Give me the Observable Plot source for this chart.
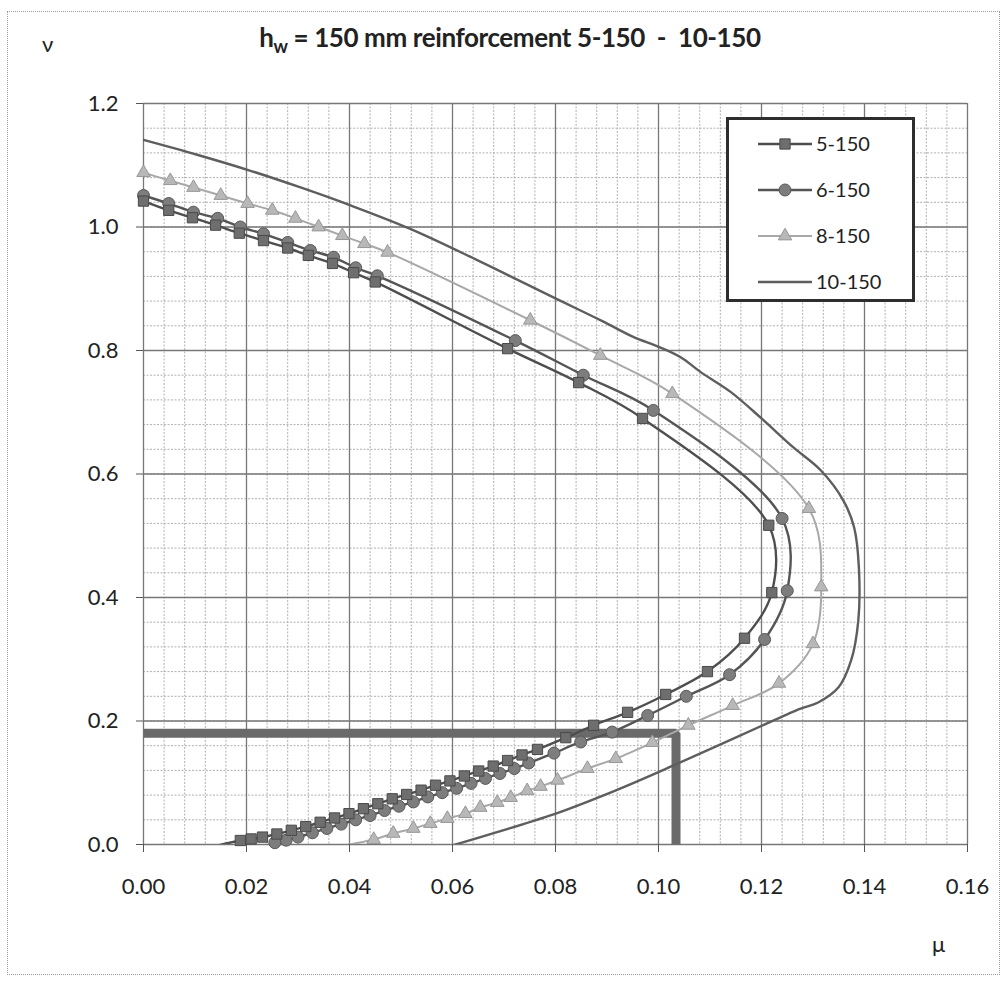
<!DOCTYPE html>
<html>
<head>
<meta charset="utf-8">
<script src="https://cdn.jsdelivr.net/npm/d3@7"></script>
<script src="https://cdn.jsdelivr.net/npm/@observablehq/plot@0.6"></script>
<style>
html, body { margin: 0; padding: 0; background: #fff; }
#wrap { position: relative; width: 1005px; height: 981px; font-family: Lato, "Open Sans", sans-serif; color: #222; overflow: hidden; }
#border { position: absolute; left: 7px; top: 11px; width: 993px; height: 964px; border: 1px dotted #9a9a9a; box-sizing: border-box; }
#chart { position: absolute; left: 0; top: 0; }
#title { position: absolute; left: 0; width: 1020px; top: 21px; text-align: center; font-weight: bold; font-size: 26px; letter-spacing: -0.4px; white-space: pre; }
#title sub { font-size: 18px; vertical-align: -6px; line-height: 0; }
#ylab { position: absolute; left: 42px; top: 30px; font-size: 22px; }
#xlab { position: absolute; left: 932px; top: 930px; font-size: 22px; }
#legend { position: absolute; left: 726px; top: 117px; width: 189px; height: 185px; border: 3px solid #2e2e2e; box-sizing: border-box; background: #fff; }
.lrow { position: absolute; left: 0; height: 24px; }
.lrow svg { position: absolute; left: 28px; top: 0; }
.lrow span { position: absolute; left: 87px; top: -1px; font-size: 20px; white-space: nowrap; }
</style>
</head>
<body>
<div id="wrap">
  <div id="border"></div>
  <div id="chart"></div>
  <div id="title">h<sub>w</sub> = 150 mm reinforcement 5-150  -  10-150</div>
  <div id="ylab">ν</div>
  <div id="xlab">μ</div>
  <div id="legend"></div>
</div>
<script>
// ---- data (mu = x, nu = y) ----
const seriesNames = ["5-150", "6-150", "8-150", "10-150"];

const mu5 = [0, 0.0049, 0.0095, 0.014, 0.0186, 0.0233, 0.028, 0.032, 0.0367, 0.0408, 0.045, 0.0707, 0.0845, 0.0969, 0.1214, 0.122, 0.1167, 0.1095, 0.1014, 0.094, 0.0874, 0.082, 0.0765, 0.0735, 0.0707, 0.0679, 0.0651, 0.0623, 0.0595, 0.0567, 0.0539, 0.0511, 0.0483, 0.0455, 0.0427, 0.0399, 0.0371, 0.0343, 0.0315, 0.0287, 0.0259, 0.0231, 0.0209, 0.0188, 0.0053];
const nu5 = [1.042, 1.027, 1.015, 1.003, 0.990, 0.978, 0.966, 0.954, 0.941, 0.926, 0.911, 0.803, 0.748, 0.690, 0.517, 0.408, 0.334, 0.280, 0.243, 0.214, 0.193, 0.173, 0.154, 0.145, 0.136, 0.127, 0.119, 0.111, 0.103, 0.096, 0.088, 0.081, 0.074, 0.066, 0.058, 0.050, 0.043, 0.036, 0.029, 0.023, 0.017, 0.012, 0.009, 0.0065, -0.02];

const mu6 = [0, 0.0049, 0.0097, 0.0144, 0.0188, 0.0233, 0.028, 0.0324, 0.0369, 0.0412, 0.0454, 0.0722, 0.0854, 0.099, 0.124, 0.125, 0.1206, 0.1138, 0.1054, 0.0979, 0.091, 0.0849, 0.0797, 0.0748, 0.072, 0.0692, 0.0664, 0.0636, 0.0608, 0.058, 0.0552, 0.0524, 0.0496, 0.0468, 0.044, 0.0412, 0.0384, 0.0356, 0.0328, 0.03, 0.0277, 0.0255];
const nu6 = [1.051, 1.038, 1.024, 1.014, 1.000, 0.989, 0.975, 0.962, 0.951, 0.934, 0.921, 0.816, 0.760, 0.703, 0.528, 0.411, 0.332, 0.275, 0.240, 0.209, 0.182, 0.166, 0.148, 0.132, 0.123, 0.115, 0.107, 0.099, 0.091, 0.084, 0.077, 0.069, 0.062, 0.055, 0.047, 0.040, 0.033, 0.026, 0.019, 0.012, 0.007, 0.003];

const mu8 = [0, 0.0052, 0.0097, 0.015, 0.0202, 0.025, 0.0295, 0.034, 0.0386, 0.0429, 0.0474, 0.0751, 0.0887, 0.1027, 0.1292, 0.1316, 0.130, 0.1234, 0.1144, 0.1058, 0.0988, 0.0917, 0.0862, 0.0804, 0.0771, 0.0745, 0.0713, 0.0687, 0.0654, 0.0625, 0.059, 0.0557, 0.0524, 0.0485, 0.0447, 0.0262];
const nu8 = [1.088, 1.075, 1.064, 1.051, 1.038, 1.027, 1.014, 1.000, 0.986, 0.973, 0.959, 0.849, 0.792, 0.730, 0.544, 0.417, 0.325, 0.261, 0.225, 0.193, 0.165, 0.139, 0.123, 0.104, 0.094, 0.087, 0.076, 0.068, 0.060, 0.050, 0.042, 0.034, 0.026, 0.018, 0.008, -0.02];

const mu10 = [0, 0.0104, 0.0208, 0.0305, 0.0402, 0.0518, 0.0649, 0.0796, 0.089, 0.0951, 0.1, 0.1043, 0.1082, 0.114, 0.12, 0.1262, 0.1315, 0.1359, 0.138, 0.1389, 0.1388, 0.1374, 0.135, 0.131, 0.1276, 0.1237, 0.1029, 0.0915, 0.079, 0.0606, 0.0528];
const nu10 = [1.141, 1.117, 1.091, 1.064, 1.035, 0.997, 0.946, 0.886, 0.848, 0.822, 0.806, 0.789, 0.765, 0.733, 0.690, 0.643, 0.606, 0.557, 0.513, 0.450, 0.363, 0.298, 0.255, 0.230, 0.220, 0.206, 0.128, 0.087, 0.047, 0.000, -0.02];

// design point lines
const refMu = [0, 0.1034, 0.1034];
const refNu = [0.18, 0.18, 0];

// axes
const xTicks = [0, 0.02, 0.04, 0.06, 0.08, 0.10, 0.12, 0.14, 0.16];
const yTicks = [0, 0.2, 0.4, 0.6, 0.8, 1.0, 1.2];
const xMinor = d3.range(0, 0.1601, 0.004);
const yMinor = d3.range(0, 1.2001, 0.04);

// ---- styles ----
const styles = {
  "5-150":  {line: "#4e4e4e", fill: "#6e6e6e", stroke: "#4a4a4a", symbol: "square",   r: 5.8, width: 2.4},
  "6-150":  {line: "#555555", fill: "#7d7d7d", stroke: "#585858", symbol: "circle",   r: 6.0, width: 2.4},
  "8-150":  {line: "#a8a8a8", fill: "#b8b8b8", stroke: "#979797", symbol: "triangle", r: 5.0, width: 2.0},
  "10-150": {line: "#5e5e5e", fill: null,      stroke: null,      symbol: null,       r: 0,   width: 2.4}
};

function toRows(name, mus, nus) { return mus.map((m, i) => ({series: name, mu: m, nu: nus[i]})); }
const rows = {
  "5-150": toRows("5-150", mu5, nu5),
  "6-150": toRows("6-150", mu6, nu6),
  "8-150": toRows("8-150", mu8, nu8),
  "10-150": toRows("10-150", mu10, nu10)
};
const refRows = refMu.map((m, i) => ({mu: m, nu: refNu[i]}));

const marks = [
  Plot.ruleX(xMinor, {stroke: "#b0b0b0", strokeWidth: 1, strokeDasharray: "2,1.5"}),
  Plot.ruleY(yMinor, {stroke: "#b0b0b0", strokeWidth: 1, strokeDasharray: "2,1.5"}),
  Plot.ruleX(xTicks, {stroke: "#777", strokeWidth: 1.3}),
  Plot.ruleY(yTicks, {stroke: "#777", strokeWidth: 1.3}),
  Plot.line(refRows, {x: "mu", y: "nu", stroke: "#6a6a6a", strokeWidth: 9, strokeLinejoin: "miter", strokeLinecap: "butt"}),
  Plot.axisX({ticks: xTicks, tickFormat: d3.format(".2f"), tickSize: 8, tickPadding: 26, fontSize: 22, stroke: "#555", fill: "#222", label: null}),
  Plot.axisY({ticks: yTicks, tickFormat: d3.format(".1f"), tickSize: 7, tickPadding: 18, fontSize: 22, stroke: "#555", fill: "#222", label: null})
];
for (const name of ["10-150", "8-150", "6-150", "5-150"]) {
  const s = styles[name];
  marks.push(Plot.line(rows[name], {x: "mu", y: "nu", stroke: s.line, strokeWidth: s.width, curve: "catmull-rom", clip: true}));
  if (s.symbol) {
    marks.push(Plot.dot(rows[name], {x: "mu", y: "nu", filter: d => d.nu >= 0, symbol: s.symbol, r: s.r, fill: s.fill, stroke: s.stroke, strokeWidth: 1}));
  }
}

const chart = Plot.plot({
  width: 1005,
  height: 981,
  marginLeft: 143,
  marginRight: 38,
  marginTop: 103,
  marginBottom: 137,
  x: {domain: [0, 0.16]},
  y: {domain: [0, 1.2]},
  style: {fontFamily: "Lato, 'Open Sans', sans-serif", background: "transparent", color: "#222"},
  marks
});
document.getElementById("chart").appendChild(chart);

// ---- legend ----
const legend = document.getElementById("legend");
const rowTops = [12, 58, 104, 150];
seriesNames.forEach((name, i) => {
  const s = styles[name];
  const row = document.createElement("div");
  row.className = "lrow";
  row.style.top = rowTops[i] + "px";
  const svg = d3.create("svg").attr("width", 56).attr("height", 24);
  svg.append("line").attr("x1", 1).attr("x2", 55).attr("y1", 12).attr("y2", 12)
    .attr("stroke", s.line).attr("stroke-width", s.width);
  if (s.symbol) {
    const sym = {square: d3.symbolSquare, circle: d3.symbolCircle, triangle: d3.symbolTriangle}[s.symbol];
    svg.append("path").attr("transform", "translate(28,12)")
      .attr("d", d3.symbol(sym, Math.PI * s.r * s.r)())
      .attr("fill", s.fill).attr("stroke", s.stroke);
  }
  row.appendChild(svg.node());
  const t = document.createElement("span");
  t.textContent = name;
  row.appendChild(t);
  legend.appendChild(row);
});
</script>
</body>
</html>
